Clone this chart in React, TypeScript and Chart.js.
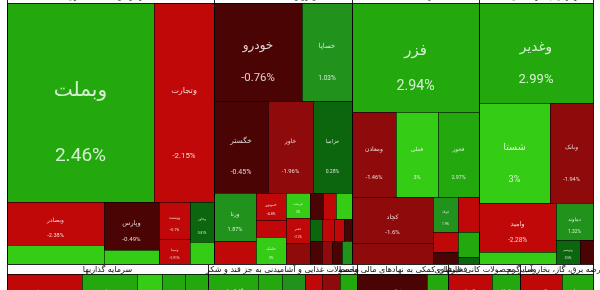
import React, { useEffect, useRef } from "react";
import { Chart, registerables } from "chart.js";

Chart.register(...registerables);

type Tree = number | Tree[];

// ---- data: each sector = tickers, daily change %, weight (market value proxy), nesting ----
const bankTitle = "بانکها و موسسات اعتباری";
const bankTickers = ["وبملت", "وتجارت", "وبصادر", "وکار", "وپارس", "ونوین", "وپست", "وسینا", "وخاور", "دی"];
const bankChanges = [2.46, -2.15, -2.38, 3, -0.49, 3, -3.1, -2.91, 0.81, 3];
const bankWeights = [28371, 11580, 4018, 1764, 2530, 715, 1080, 720, 936, 504];
const bankTree: Tree = [[0, 1], [[2, 3], [4, 5], [6, 7], [8, 9]]];

const autoTitle = "خودرو و ساخت قطعات";
const autoTickers = ["خودرو", "خساپا", "خگستر", "خاور", "خزامیا", "ورنا", "خبهمن", "خموتور", "خمحرکه", "خکمک", "خریخت", "خفنر", "خچرخش", "خکاوه", "خپارس", "خرینگ", "خلنت", "خمحور", "خکار", "خشرق", "خصدرا", "خاهن", "ختراک", "خعمرا"];
const autoChanges = [-0.76, 1.03, -0.45, -1.96, 0.28, 1.87, -2.07, -4.8, -2.3, 3, 3, -2.2, -1.8, -0.6, -2, 3, 0.5, -2.4, -2.1, -0.9, -0.7, -1.5, -0.4, 1.5];
const autoWeights = [8360, 4750, 4806, 4005, 3471, 1974, 924, 810, 480, 780, 600, 576, 480, 338, 338, 416, 252, 252, 210, 168, 264, 220, 220, 220];
const autoTree: Tree = [[0, 1], [2, 3, 4], [[5, 6], [7, 8, 9], [10, 11, 12], [[13, 14, 15], [16, 17, 18, 19], [20, 21, 22, 23]]]];

const metalTitle = "فلزات اساسی";
const metalTickers = ["فزر", "ومعادن", "فملی", "فخوز", "کچاد", "کگل", "فولاد", "فسپا", "فنورد", "فاسمین", "فجر", "فسرب"];
const metalChanges = [2.94, -1.46, 3, 2.97, -1.6, -1.55, 1.9, -2.1, -0.8, -2.3, 2, 0.4];
const metalWeights = [13335, 3652, 3403, 3403, 3600, 1600, 850, 500, 275, 714, 525, 126];
const metalTree: Tree = [0, [1, 2, 3], [[4, 5], [6, 7, 8], [9, 10, 11]]];

const multiTitle = "شرکتهای چند رشته ای صنعتی";
const multiTickers = ["وغدیر", "شستا", "وبانک", "وامید", "وسپه", "دماوند", "وتوسم", "وصنا"];
const multiChanges = [2.99, 3, -1.94, -2.28, 3, 1.32, 0.5, -0.6];
const multiWeights = [11058, 6887, 4171, 3696, 847, 1332, 552, 299];
const multiTree: Tree = [0, [1, 2], [[3, 4], [5, [6, 7]]]];

const investTitle = "سرمایه گذاریها";
const investTickers = ["وصندوق", "وبوعلی", "وسپهر", "وبهمن", "وآتی"];
const investChanges = [-2.1, 2.2, 3, 2.1, 2.5];
const investWeights = [3450, 2530, 1150, 1058, 1058];
const investTree: Tree = [[0, 1, 2, 3, 4]];

const foodTitle = "محصولات غذایی و آشامیدنی به جز قند و شکر";
const foodTickers = ["گلوکوزان", "غشهد", "غپینو", "غبشهر", "غمارگ", "غدام"];
const foodChanges = [2.3, 2.0, 1.9, -2.2, -1.2, 2.0];
const foodWeights = [2300, 1104, 1058, 782, 828, 782];
const foodTree: Tree = [[0, 1, 2, 3, 4, 5]];

const auxTitle = "فعالیتهای کمکی به نهادهای مالی واسط";
const auxTickers = ["فرابورس", "کالا"];
const auxChanges = [-0.7, 2.4];
const auxWeights = [3220, 966];
const auxTree: Tree = [[0, 1]];

const mineralTitle = "سایر محصولات کانی غیرفلزی";
const mineralTickers = ["کفرا", "کساپا"];
const mineralChanges = [-2.0, 2.3];
const mineralWeights = [2024, 1288];
const mineralTree: Tree = [[0, 1]];

const powerTitle = "عرضه برق، گاز، بخاروآب گرم";
const powerTickers = ["بکهنوج", "بمپنا"];
const powerChanges = [-2.2, 2.1];
const powerWeights = [1932, 1426];
const powerTree: Tree = [[0, 1]];

// ---- structure ----
interface Sector { title: string; tickers: string[]; changes: number[]; weights: number[]; tree: Tree; }
const mk = (title: string, tickers: string[], changes: number[], weights: number[], tree: Tree): Sector => ({ title, tickers, changes, weights, tree });

const topRow: Sector[] = [
  mk(bankTitle, bankTickers, bankChanges, bankWeights, bankTree),
  mk(autoTitle, autoTickers, autoChanges, autoWeights, autoTree),
  mk(metalTitle, metalTickers, metalChanges, metalWeights, metalTree),
  mk(multiTitle, multiTickers, multiChanges, multiWeights, multiTree),
];
const bottomRow: Sector[] = [
  mk(investTitle, investTickers, investChanges, investWeights, investTree),
  mk(foodTitle, foodTickers, foodChanges, foodWeights, foodTree),
  mk(auxTitle, auxTickers, auxChanges, auxWeights, auxTree),
  mk(mineralTitle, mineralTickers, mineralChanges, mineralWeights, mineralTree),
  mk(powerTitle, powerTickers, powerChanges, powerWeights, powerTree),
];

// view frame (data units of the chart's x/y scales)
const ROOT = { x0: 7, x1: 593, y0: -7.5, y1: 313 };
const HEADER = 10.5;

interface R { x0: number; x1: number; y0: number; y1: number; }

function nodeWeight(node: Tree, w: number[]): number {
  return typeof node === "number" ? w[node] : node.reduce((s: number, n) => s + nodeWeight(n, w), 0);
}
function layoutNode(node: Tree, w: number[], r: R, depth: number, out: (i: number, r: R) => void) {
  if (typeof node === "number") { out(node, r); return; }
  const total = nodeWeight(node, w);
  const vertical = depth % 2 === 0;
  let p = vertical ? r.y0 : r.x0;
  for (const ch of node) {
    const f = nodeWeight(ch, w) / total;
    if (vertical) {
      const h = (r.y1 - r.y0) * f;
      layoutNode(ch, w, { x0: r.x0, x1: r.x1, y0: p, y1: p + h }, depth + 1, out);
      p += h;
    } else {
      const ww = (r.x1 - r.x0) * f;
      layoutNode(ch, w, { x0: p, x1: p + ww, y0: r.y0, y1: r.y1 }, depth + 1, out);
      p += ww;
    }
  }
}

function colorFor(c: number): string {
  if (c >= 3) return "#34cc14";
  if (c >= 2) return "#23a90e";
  if (c >= 1) return "#21931c";
  if (c >= 0) return "#0c660e";
  if (c > -1) return "#4b0404";
  if (c > -2) return "#8f0b0b";
  return "#c00808";
}

const treemapPlugin = {
  id: "treemapCells",
  afterDatasetsDraw(chart: any) {
    const { ctx, scales } = chart;
    const xs = scales.x, ys = scales.y;
    const px = (v: number) => Math.round(xs.getPixelForValue(v));
    const py = (v: number) => Math.round(ys.getPixelForValue(v));
    const rows = [topRow, bottomRow];
    const rowW = rows.map((row) => row.reduce((s, sec) => s + nodeWeight(sec.tree, sec.weights), 0));
    const tot = rowW[0] + rowW[1];
    const leaves: { r: R; s: Sector; i: number }[] = [];
    const groups: { r: R; s: Sector; row: number }[] = [];
    let y = ROOT.y0;
    rows.forEach((row, ri) => {
      const h = (ROOT.y1 - ROOT.y0) * rowW[ri] / tot;
      let x = ROOT.x0;
      row.forEach((sec) => {
        const ww = (ROOT.x1 - ROOT.x0) * nodeWeight(sec.tree, sec.weights) / rowW[ri];
        const gr = { x0: x, x1: x + ww, y0: y, y1: y + h };
        groups.push({ r: gr, s: sec, row: ri });
        layoutNode(sec.tree, sec.weights, { x0: gr.x0, x1: gr.x1, y0: gr.y0 + HEADER, y1: gr.y1 }, 0, (i, r) => leaves.push({ r, s: sec, i }));
        x += ww;
      });
      y += h;
    });
    ctx.save();
    // cells
    for (const l of leaves) {
      const x0 = px(l.r.x0), x1 = px(l.r.x1), y0 = py(l.r.y0), y1 = py(l.r.y1);
      ctx.fillStyle = colorFor(l.s.changes[l.i]);
      ctx.fillRect(x0, y0, x1 - x0, y1 - y0);
    }
    ctx.lineWidth = 1;
    ctx.strokeStyle = "rgba(0,0,0,0.35)";
    for (const l of leaves) {
      const x0 = px(l.r.x0), x1 = px(l.r.x1), y0 = py(l.r.y0), y1 = py(l.r.y1);
      ctx.strokeRect(x0 + 0.5, y0 + 0.5, x1 - x0, y1 - y0);
    }
    // labels
    ctx.textAlign = "center";
    ctx.textBaseline = "middle";
    for (const l of leaves) {
      const x0 = px(l.r.x0), x1 = px(l.r.x1), y0 = py(l.r.y0), y1 = py(l.r.y1);
      const w = x1 - x0, h = y1 - y0;
      const f = Math.min(20, Math.min(w, h) * 0.13);
      if (f < 3) continue;
      ctx.fillStyle = "rgba(255,255,255,0.82)";
      ctx.font = `${(f * 1.05).toFixed(1)}px "DejaVu Sans", sans-serif`;
      ctx.fillText(l.s.tickers[l.i], (x0 + x1) / 2, y0 + h * 0.44);
      ctx.font = `${f.toFixed(1)}px Roboto, sans-serif`;
      ctx.fillText(String(l.s.changes[l.i]) + "%", (x0 + x1) / 2, y0 + h * 0.77);
    }
    // sector frames + headers
    for (const g of groups) {
      const x0 = px(g.r.x0), x1 = px(g.r.x1), y0 = py(g.r.y0), y1 = py(g.r.y1);
      const yh = py(g.r.y0 + HEADER);
      ctx.fillStyle = "#fcfcfc";
      ctx.fillRect(x0, y0, x1 - x0, yh - y0);
      ctx.strokeStyle = "rgba(0,0,0,0.85)";
      ctx.strokeRect(x0 + 0.5, y0 + 0.5, x1 - x0, y1 - y0);
      ctx.strokeStyle = "rgba(0,0,0,0.6)";
      ctx.beginPath();
      ctx.moveTo(x0, yh + 0.5);
      ctx.lineTo(x1, yh + 0.5);
      ctx.stroke();
    }
    ctx.fillStyle = "#111";
    ctx.font = `8px "DejaVu Sans", sans-serif`;
    for (const g of groups) {
      const x0 = px(g.r.x0), x1 = px(g.r.x1), y0 = py(g.r.y0), yh = py(g.r.y0 + HEADER);
      const lift = g.row === 0 ? 2 : 0;
      ctx.fillText(g.s.title, (x0 + x1) / 2, (y0 + yh) / 2 + 0.5 - lift);
    }
    ctx.restore();
  },
};

export default function App() {
  const ref = useRef<HTMLCanvasElement | null>(null);
  useEffect(() => {
    if (!ref.current) return;
    const chart = new Chart(ref.current, {
      type: "scatter",
      data: { datasets: [{ data: [] }] },
      options: {
        animation: false,
        responsive: true,
        maintainAspectRatio: false,
        layout: { padding: 0 },
        scales: {
          x: { type: "linear", min: 0, max: 600, display: false },
          y: { type: "linear", min: 0, max: 290, reverse: true, display: false },
        },
        plugins: { legend: { display: false }, tooltip: { enabled: false } },
      },
      plugins: [treemapPlugin],
    } as any);
    return () => chart.destroy();
  }, []);
  return (
    <div style={{ position: "fixed", left: 0, top: 0, width: 600, height: 290, background: "#fff" }}>
      <canvas ref={ref} />
    </div>
  );
}
